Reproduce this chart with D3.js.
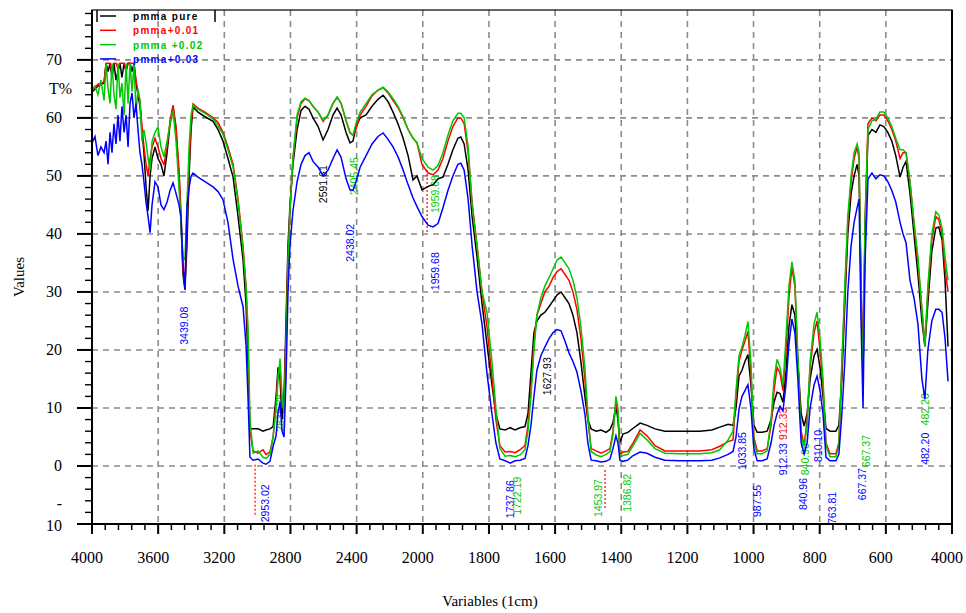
<!DOCTYPE html>
<html lang="en">
<head>
<meta charset="UTF-8">
<title>PMMA FTIR</title>
<script src="https://cdnjs.cloudflare.com/ajax/libs/d3/7.8.5/d3.min.js"></script>
<style>
    body { margin: 0; background: #fff; }
    svg { display: block; }
    .tick-label, .axis-title { font-family: "Liberation Serif", "DejaVu Serif", serif; fill: #000; }
    .tick-label { font-size: 16px; }
    .axis-title { font-size: 15px; }
    .legend text { font-family: "Liberation Sans", Arial, sans-serif; font-size: 10px; font-weight: bold; letter-spacing: 1.3px; }
    .note { font-family: "Liberation Sans", Arial, sans-serif; font-size: 10.5px; }
</style>
</head>
<body>
<svg id="chart" width="966" height="613"></svg>
<script>
// wavenumbers (cm-1), shared by all four spectra
const wavenumbers = [
    4000, 3982, 3964, 3946, 3927, 3915, 3903, 3891, 3879, 3867,
    3855, 3843, 3831, 3819, 3806, 3794, 3782, 3770, 3758, 3746,
    3734, 3722, 3710, 3698, 3686, 3673, 3661, 3649, 3637, 3619,
    3601, 3583, 3565, 3546, 3528, 3510, 3492, 3474, 3462, 3450,
    3438, 3426, 3413, 3401, 3389, 3359, 3317, 3268, 3238, 3208,
    3178, 3147, 3117, 3087, 3069, 3057, 3045, 3026, 2996, 2966,
    2948, 2924, 2905, 2887, 2875, 2863, 2851, 2839, 2827, 2815,
    2803, 2785, 2760, 2736, 2712, 2688, 2664, 2633, 2603, 2573,
    2543, 2518, 2494, 2464, 2440, 2422, 2404, 2379, 2343, 2307,
    2271, 2240, 2210, 2180, 2150, 2119, 2089, 2059, 2035, 2005,
    1984, 1969, 1954, 1939, 1924, 1909, 1894, 1885, 1875, 1863,
    1851, 1836, 1821, 1806, 1791, 1779, 1767, 1751, 1736, 1721,
    1706, 1691, 1682, 1673, 1664, 1655, 1643, 1631, 1618, 1606,
    1594, 1582, 1570, 1558, 1546, 1534, 1522, 1510, 1501, 1491,
    1476, 1461, 1446, 1434, 1425, 1416, 1410, 1404, 1395, 1380,
    1364, 1343, 1322, 1298, 1268, 1222, 1162, 1126, 1102, 1077,
    1062, 1053, 1044, 1035, 1026, 1017, 1008, 999, 989, 974,
    959, 947, 938, 929, 920, 911, 902, 893, 884, 875,
    866, 856, 847, 838, 829, 817, 808, 799, 790, 781,
    769, 751, 742, 733, 724, 715, 705, 696, 687, 681,
    675, 669, 663, 654, 642, 630, 618, 606, 594, 582,
    570, 557, 548, 539, 527, 515, 503, 491, 482, 473,
    461, 449, 440, 430, 421, 412
];

const pmmaPure = [
    64.4, 65, 65.5, 65.8, 66, 69.4, 68, 69.4, 67, 69.4,
    66.5, 68, 69.4, 67, 69.4, 68, 69.4, 69.4, 68, 69.4,
    66, 64, 62, 58, 54, 48, 44, 50, 53, 55,
    53, 52, 50, 54, 59, 61.9, 58, 50, 42, 33,
    30.4, 38, 50, 58, 61.9, 61, 60.2, 59.4, 58, 56,
    53, 49.8, 43, 35.6, 28, 18, 6.4, 6.4, 6.4, 6.0,
    6.2, 6.4, 6.8, 12, 17, 15, 8, 12, 25, 38,
    45, 52, 58, 61.3, 62, 61.5, 60, 58.5, 56.2, 58,
    60.5, 61.7, 60.5, 57.5, 55.7, 56, 58.5, 60, 60.5, 62,
    63.2, 63.9, 62.8, 61, 59, 56.5, 53.5, 49.3, 50, 47.6,
    48.2, 48.5, 49.5, 49.8, 52, 54.5, 56.5, 56.7, 55.5, 51,
    43, 36, 28, 21, 14, 9, 6.4, 6.2, 6.6, 6.2,
    6.6, 6.8, 9, 16, 23, 25, 26, 26.5, 27.5, 28.5,
    29.5, 30, 29, 28, 26, 23, 18, 12, 8, 6.4,
    6.0, 6.2, 5.8, 6.3, 7.5, 10.3, 8, 4, 5.5, 5.8,
    6.5, 7.4, 7, 6.4, 6.0, 6.0, 6.0, 6.2, 6.7, 7.2,
    7.0, 10, 15.5, 16.5, 18, 19.2, 14, 7, 5.8, 5.8,
    6.0, 8, 11, 12.7, 12.5, 11, 16, 24, 27.8, 26,
    18, 9, 6.9, 9, 15, 19, 20.1, 17, 12, 6.5,
    6.0, 6.0, 7, 15, 28, 40, 47, 50, 52, 50,
    32, 16, 40, 57, 58, 57.5, 58.8, 58.5, 57.5, 56,
    53.5, 49.8, 51.5, 52.5, 47, 40, 33, 25, 20.6, 28,
    37, 41, 41.2, 39, 32, 20.6
];

const pmma001 = [
    64.6, 65.3, 65.8, 66, 66.2, 69.4, 69.4, 69.4, 68, 69.4,
    69.4, 68.5, 69.4, 69.4, 69.4, 68.5, 69.4, 69.4, 69.4, 69.4,
    66.5, 64.5, 63, 58.5, 55, 52, 50, 53, 55, 56.5,
    55, 53, 52, 55, 59.5, 62.2, 58.5, 51, 44, 34,
    31, 42, 52, 59, 62.4, 61.7, 61, 60, 59.2, 57.5,
    55, 52, 46, 38, 31, 22, 6, 2.6, 2.2, 2.8,
    2.0, 2.4, 5, 11, 16, 17, 10, 11, 22, 36,
    44, 53, 60, 62.5, 63.3, 63, 62, 61, 59.4, 60.5,
    62.5, 63.5, 62.5, 59.5, 57.5, 57, 58, 60.5, 62, 63.8,
    64.8, 65.2, 64.3, 63, 61.8, 60, 58, 56.5, 55.7, 52,
    50.5, 50.2, 51, 53, 56, 58.5, 60, 60, 59, 54,
    45.5, 38, 30, 24, 15.5, 8, 3.5, 2.4, 2.5, 2.3,
    2.8, 3.5, 7, 13, 21, 26, 28, 30, 31, 32.5,
    33.5, 34, 33, 32, 30, 27, 22, 15, 8, 3,
    2.6, 2.2, 2.6, 3, 6, 11, 9, 2, 2.4, 2.5,
    4, 6.2, 5.2, 3.5, 2.6, 2.6, 2.6, 2.8, 3.4, 4.2,
    4.5, 12, 18, 20, 21.5, 23.2, 16, 5, 2.6, 2.6,
    3, 7, 13, 17, 16, 13, 20, 29, 34.2, 31,
    18, 6, 3.5, 8, 17, 23, 25, 20, 14, 4,
    2.1, 2.1, 4, 17, 30, 42, 49, 53, 55, 53,
    30, 15.5, 42, 59, 60, 59.5, 60.5, 60.5, 59.5, 58,
    56, 53, 54, 54, 49, 42, 35, 27, 21, 30,
    39, 43, 42.5, 40, 34, 30
];

const pmma002 = [
    64.8, 65.5, 64.0, 66.5, 63.0, 69.4, 65, 62.5, 69.4, 64,
    61.5, 69.4, 63.5, 66, 60.5, 69.4, 62.5, 69.4, 64.5, 69.4,
    61, 65, 63, 56, 58, 55.7, 53, 51, 56, 57.5,
    58.4, 55, 53.3, 56, 59, 61.3, 56, 48, 42, 36,
    35.6, 45, 55, 60.5, 62.2, 61.5, 60.8, 59.8, 58.6, 57.2,
    54.5, 51.5, 45.5, 37.5, 31, 24, 8, 2.2, 2.6, 1.5,
    1.3, 2.0, 5, 10, 15, 18.5, 12, 9, 20, 35,
    44, 53, 60.5, 62.8, 63.4, 63, 62, 61, 59.6, 60.5,
    62.5, 63.6, 62.5, 59.5, 57.4, 57, 59, 61, 62.5, 64,
    64.8, 65.3, 64.5, 63.3, 62, 60.2, 58, 56.5, 55.7, 53,
    51.5, 51, 51.8, 54, 57, 59.5, 60.8, 60.8, 60, 55,
    45, 37.8, 30, 26.5, 18, 10, 3, 1.7, 1.8, 1.6,
    1.9, 2.8, 6, 12, 20, 26, 29, 31, 32.5, 34,
    35.5, 36, 35, 34, 32, 29, 24, 17, 9, 2.5,
    1.9, 1.6, 2.0, 2.5, 5.5, 12, 10, 1.5, 1.8, 2,
    3.5, 5.6, 4.5, 3, 2.2, 2.1, 2.1, 2.3, 2.8, 4.5,
    6, 13, 19, 20.5, 22.5, 24.9, 18, 4, 2.1, 2.1,
    2.6, 8, 15, 18.4, 17, 14, 22, 31, 35.2, 32,
    19, 5, 3.4, 7, 18, 24.5, 26.5, 22, 15, 3.5,
    1.6, 1.6, 3.5, 18, 31, 43, 50, 54, 55.5, 54,
    28, 15, 42, 58, 59.5, 59.8, 61, 61, 60, 58.5,
    56.5, 54.5, 54.5, 54, 49, 42, 36, 27, 20.6, 31,
    40, 43.8, 43.3, 41, 36, 32
];

const pmma003 = [
    55.7, 56.8, 53.5, 55, 54.0, 56, 52, 57.5, 54, 59,
    55.5, 60.5, 56, 62, 57.5, 60.5, 55, 62.5, 64.3, 60,
    62.5, 58, 54, 52, 49, 45.4, 43, 40.2, 45, 49,
    48.1, 45, 44.2, 45.5, 47.5, 48.8, 47, 45, 43, 35,
    30.4, 44.7, 48, 50, 50.5, 49.8, 49, 48.1, 47.3, 45.9,
    42, 35.6, 31, 27.5, 21, 12, 1.5, 1.0, 1.2, 0.5,
    0.3, 0.8, 3.4, 5.2, 9.3, 11, 6, 5, 15, 30,
    38, 44, 49, 52, 53.5, 54, 52.5, 51.5, 50.0, 51,
    53, 54.5, 53.2, 49.5, 47.6, 47.5, 49, 51.5, 53.5, 55.5,
    56.8, 57.4, 56.3, 55, 53.3, 51, 48.5, 46.2, 44.7, 43,
    41.5, 41.2, 41.8, 44.5, 47.5, 50, 52, 52.2, 51, 46,
    38, 30, 24.5, 16, 9, 4, 1.2, 0.9, 0.5, 0.9,
    1.0, 1.3, 3.5, 7, 12, 16.5, 19, 20.5, 22, 23,
    23.5, 23.3, 21.5, 19.5, 18, 16.2, 13, 9, 4, 1.0,
    0.9, 0.7, 0.8, 1.2, 3, 5.2, 4, 1.0, 0.8, 1.0,
    1.8, 2.4, 2.2, 1.5, 1.0, 0.9, 0.9, 1.0, 1.4, 2.0,
    2.5, 5, 9.8, 12, 13, 14, 10, 3, 0.9, 0.9,
    1.2, 4, 7, 9, 10.3, 9.5, 14, 21, 25.3, 23,
    15, 4, 2.1, 4, 10, 14, 15.5, 13, 9, 1.5,
    0.9, 0.9, 2, 9, 18, 30, 38, 42, 44.5, 46,
    25, 10, 35, 49.5, 50.5, 49.5, 50.2, 50, 49, 47.5,
    45.5, 42, 40, 38.5, 32, 29, 24.5, 15, 11.5, 20,
    25, 27, 27, 26.5, 22, 14.6
];

const seriesNames = ["pmma pure", "pmma+0.01", "pmma +0.02", "pmma+0.03"];
const seriesColors = ["#000000", "#ff0000", "#00c800", "#0000ff"];

// x axis: 400 cm-1 per division above 2000, 200 per division below
const xTickValues = [4000, 3600, 3200, 2800, 2400, 2000, 1800, 1600, 1400, 1200, 1000, 800, 600, 400];
const xTickLabels = ["4000", "3600", "3200", "2800", "2400", "2000", "1800", "1600", "1400", "1200", "1000", "800", "600", "4000"];
const yTickValues = [70, 60, 50, 40, 30, 20, 10, 0];

// peak labels: text, position (cm-1), value at the foot of the text, colour index
const peakLabels = [
    ["3439.08", 3444, 20.9, 3],
    ["2591.61", 2603, 45.3, 0],
    ["2405.45", 2416, 46.7, 2],
    ["2438.02", 2440, 35.2, 3],
    ["1959.68", 1963, 43.6, 2],
    ["1959.68", 1963, 30.3, 3],
    ["2953.02", 2954, -9.7, 3],
    ["2838.28", 2863, 5.9, 2],
    ["1737.86", 1736, -9, 3],
    ["1722.19", 1715, -8.4, 2],
    ["1627.93", 1624, 12.2, 0],
    ["1453.97", 1470, -8.8, 2],
    ["1386.82", 1382, -7.9, 2],
    ["1033.85", 1035, -0.7, 3],
    ["987.55", 989, -8.8, 3],
    ["912.33", 911, 4.5, 1],
    ["912.33", 912, -1.6, 3],
    ["840.96", 843, -1.6, 2],
    ["840.96", 852, -7.6, 3],
    ["810.10", 805, 0.7, 3],
    ["763.81", 762, -10, 3],
    ["667.37", 660, -0.2, 2],
    ["667.37", 672, -5.9, 3],
    ["482.20", 482, 7, 2],
    ["482.20", 482, 0.2, 3]
];
// red dotted drop lines: position, from, to
const dropLines = [
    [3014, 0.2, -8.4],
    [1987, 51, 40.3],
    [1449, -0.7, -7.6]
];

const svg = d3.select("#chart");
const plotL = 92, plotR = 952, plotT = 10, plotB = 524;

const x = d3.scaleLinear().domain([4000, 2000, 400]).range([plotL, 422.8, plotR]);
const y = d3.scaleLinear().domain([-10, 78.6]).range([plotB, plotT]);

// dashed grid
const grid = svg.append("g").attr("stroke", "#8c8c8c").attr("stroke-width", 1.6).attr("stroke-dasharray", "6,5");
grid.selectAll("line.v").data(xTickValues.slice(1, -1)).enter().append("line")
    .attr("x1", d => x(d)).attr("x2", d => x(d)).attr("y1", plotT).attr("y2", plotB);
grid.selectAll("line.h").data(yTickValues).enter().append("line")
    .attr("x1", plotL).attr("x2", plotR).attr("y1", d => y(d)).attr("y2", d => y(d));

// peak labels sit under the spectra
const notes = svg.append("g");
dropLines.forEach(d => {
    notes.append("line")
        .attr("x1", x(d[0])).attr("x2", x(d[0]))
        .attr("y1", y(d[1])).attr("y2", y(d[2]))
        .attr("stroke", "#ff0000").attr("stroke-width", 1.2).attr("stroke-dasharray", "2,2");
});
peakLabels.forEach(d => {
    const px = x(d[1]), py = y(d[2]);
    notes.append("text").attr("class", "note")
        .attr("transform", `translate(${px},${py}) rotate(-90)`)
        .attr("dominant-baseline", "central")
        .attr("fill", seriesColors[d[3]])
        .text(d[0]);
});

// spectra
const allSeries = [pmmaPure, pmma001, pmma002, pmma003];
const line = d3.line().x(d => x(d[0])).y(d => y(d[1]));
allSeries.forEach((vals, i) => {
    svg.append("path")
        .datum(wavenumbers.map((w, j) => [w, vals[j]]))
        .attr("d", line)
        .attr("fill", "none")
        .attr("stroke", seriesColors[i])
        .attr("stroke-width", 1.5)
        .attr("stroke-linejoin", "miter");
});

// frame
const frame = svg.append("g").attr("stroke", "#000").attr("fill", "none");
frame.append("rect").attr("x", plotL).attr("y", plotT).attr("width", plotR - plotL).attr("height", plotB - plotT)
    .attr("stroke-width", 1.2);
frame.append("line").attr("x1", plotL).attr("x2", plotL).attr("y1", plotT).attr("y2", plotB + 10).attr("stroke-width", 2);
frame.append("line").attr("x1", plotL - 15).attr("x2", plotR).attr("y1", plotB).attr("y2", plotB).attr("stroke-width", 2);
frame.append("line").attr("x1", plotR).attr("x2", plotR).attr("y1", plotT).attr("y2", plotB + 10).attr("stroke-width", 2);

// x ticks, five minor steps per division
const xMinor = [];
for (let i = 0; i < xTickValues.length - 1; i++) {
    const a = xTickValues[i], b = xTickValues[i + 1];
    for (let k = 1; k < 5; k++) xMinor.push(a + (b - a) * k / 5);
}
frame.selectAll("line.xmaj").data(xTickValues).enter().append("line")
    .attr("x1", d => x(d)).attr("x2", d => x(d)).attr("y1", plotB).attr("y2", plotB + 10).attr("stroke-width", 2);
frame.selectAll("line.xmin").data(xMinor).enter().append("line")
    .attr("x1", d => x(d)).attr("x2", d => x(d)).attr("y1", plotB).attr("y2", plotB + 6).attr("stroke-width", 1.5);

// y ticks
frame.selectAll("line.ytick").data(d3.range(-10, 79, 2)).enter().append("line")
    .attr("x1", d => d % 10 === 0 ? plotL - 15 : plotL - 7).attr("x2", plotL)
    .attr("y1", d => y(d)).attr("y2", d => y(d))
    .attr("stroke-width", d => d % 10 === 0 ? 2 : 1.4);

// tick labels
svg.selectAll("text.xl").data(xTickValues).enter().append("text")
    .attr("class", "tick-label").attr("text-anchor", "middle")
    .attr("x", d => x(d) - 5).attr("y", 563)
    .text((d, i) => xTickLabels[i]);
svg.selectAll("text.yl").data(yTickValues).enter().append("text")
    .attr("class", "tick-label").attr("text-anchor", "end").attr("dominant-baseline", "central")
    .attr("x", 62).attr("y", d => y(d))
    .text(d => d);
svg.append("text").attr("class", "tick-label").attr("text-anchor", "end").attr("dominant-baseline", "central")
    .attr("x", 62).attr("y", y(-6.5)).text("-");
svg.append("text").attr("class", "tick-label").attr("text-anchor", "end").attr("dominant-baseline", "central")
    .attr("x", 62).attr("y", y(-10.3)).text("10");
svg.append("text").attr("class", "tick-label").attr("text-anchor", "end").attr("dominant-baseline", "central")
    .attr("x", 72).attr("y", y(65)).text("T%");

// axis titles
svg.append("text").attr("class", "axis-title").attr("text-anchor", "middle")
    .attr("transform", `translate(24,${(plotT + plotB) / 2 + 10}) rotate(-90)`).text("Values");
svg.append("text").attr("class", "axis-title").attr("text-anchor", "middle")
    .attr("x", 490).attr("y", 606).text("Variables (1cm)");

// legend
const legend = svg.append("g").attr("class", "legend");
legend.append("line").attr("x1", 97).attr("x2", 97).attr("y1", plotT).attr("y2", plotT + 12).attr("stroke", "#000").attr("stroke-width", 1.5);
legend.append("line").attr("x1", 215).attr("x2", 215).attr("y1", plotT).attr("y2", plotT + 12).attr("stroke", "#000").attr("stroke-width", 1.5);
seriesNames.forEach((name, i) => {
    const ly = 16 + i * 14.3;
    legend.append("line").attr("x1", 100).attr("x2", 116).attr("y1", ly).attr("y2", ly)
        .attr("stroke", seriesColors[i]).attr("stroke-width", 1.5);
    legend.append("text").attr("x", 133).attr("y", ly + 4).attr("fill", seriesColors[i]).text(name);
});
</script>
</body>
</html>
